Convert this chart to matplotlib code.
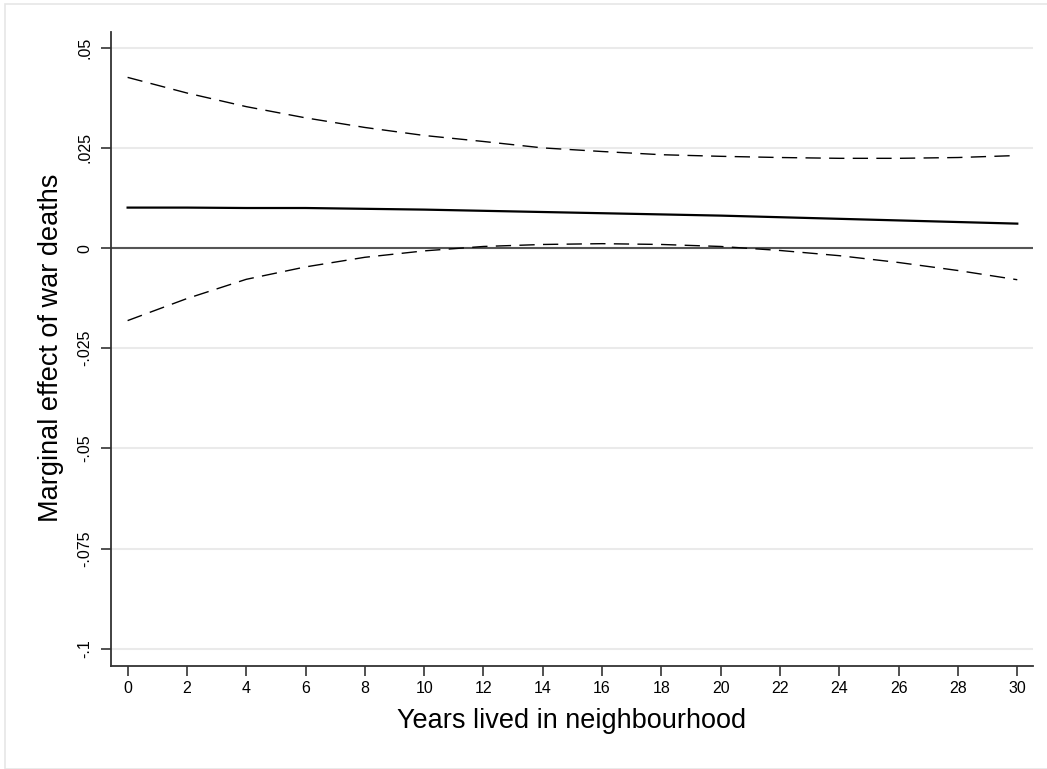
import matplotlib
matplotlib.use("Agg")
import matplotlib.pyplot as plt
from matplotlib.patches import Rectangle

plt.rcParams['font.family'] = ['Liberation Sans', 'DejaVu Sans']

years = [0, 2, 4, 6, 8, 10, 12, 14, 16, 18, 20, 22, 24, 26, 28, 30]
effect = [0.0101, 0.0101, 0.0100, 0.0100, 0.0098, 0.0096, 0.0093, 0.0090,
          0.0087, 0.0084, 0.0081, 0.0077, 0.0073, 0.0069, 0.0065, 0.0061]
upper = [0.0426, 0.0387, 0.0353, 0.0325, 0.0301, 0.0281, 0.0266, 0.0250,
         0.0241, 0.0233, 0.0229, 0.0226, 0.0224, 0.0224, 0.0226, 0.0231]
lower = [-0.0181, -0.0126, -0.0078, -0.0047, -0.0023, -0.0007, 0.0004, 0.0009,
         0.0011, 0.0009, 0.0004, -0.0006, -0.0019, -0.0036, -0.0056, -0.0079]

yticks = [0.05, 0.025, 0, -0.025, -0.05, -0.075, -0.1]
ytick_labels = ['.05', '.025', '0', '-.025', '-.05', '-.075', '-.1']
xticks = list(range(0, 31, 2))

W, H = 1047, 769
fig = plt.figure(figsize=(W / 100, H / 100), dpi=100)
fig.patch.set_facecolor('white')
fig.patches.append(Rectangle((5 / W, 0), 1.2, (H - 4) / H, transform=fig.transFigure,
                             facecolor='none', edgecolor='#e6e6e6', lw=1.2, zorder=0))

left, right, top, bottom = 111, 1033, 31.7, 666
ax = fig.add_axes([left / W, (H - bottom) / H, (right - left) / W, (bottom - top) / H])

for t in yticks:
    ax.axhline(t, color='#eaeaea', lw=1.5, zorder=0)
ax.axhline(0, color='#555555', lw=1.5, zorder=1)

ax.plot(years, upper, color='black', lw=1.0, dashes=(11, 6), zorder=3)
ax.plot(years, lower, color='black', lw=1.0, dashes=(11, 6), zorder=3)
ax.plot(years, effect, color='black', lw=1.6, zorder=4)

ax.set_xlim(-0.56, 30.53)
ax.set_ylim(-0.1043, 0.054)
ax.set_xticks(xticks)
ax.set_xticklabels([str(v) for v in xticks])
ax.set_yticks(yticks)
ax.set_yticklabels(ytick_labels, rotation=90, va='center')

for s in ['top', 'right']:
    ax.spines[s].set_visible(False)
for s in ['left', 'bottom']:
    ax.spines[s].set_color('#333333')
    ax.spines[s].set_linewidth(1.3)

ax.tick_params(axis='both', direction='out', length=7.5, width=1.2, color='#333333',
               labelsize=11.5, labelcolor='black')
ax.tick_params(axis='x', pad=3)
ax.tick_params(axis='y', pad=6)

ax.set_xlabel('Years lived in neighbourhood', fontsize=19.5)
ax.xaxis.set_label_coords(0.5, -(708.3 - 666) / (666 - 31.7))
fig.text(50.7 / W, (H - 348) / H, 'Marginal effect of war deaths', rotation=90,
         ha='center', va='center', fontsize=19.5)

fig.savefig('out.png', dpi=100, facecolor=fig.get_facecolor())
